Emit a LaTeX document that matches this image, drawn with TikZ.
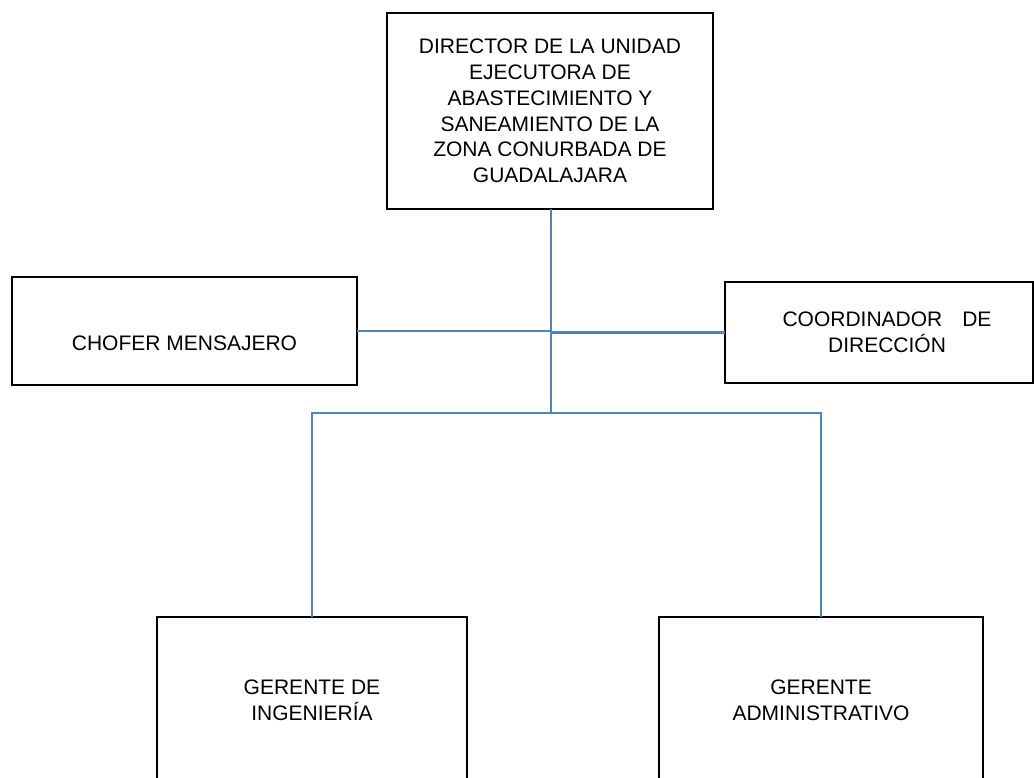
\documentclass[tikz,border=0pt]{standalone}
\usepackage{fontspec}
\setmainfont{Liberation Sans}
\definecolor{linkblue}{HTML}{4F81BD}
\begin{document}
\begin{tikzpicture}[x=1pt,y=-1pt,
  box/.style={draw=black,line width=2.8pt,rectangle,inner sep=0pt,outer sep=0pt,
    align=center,font=\fontsize{21}{25.7}\selectfont},
  link/.style={draw=linkblue,line width=2.2pt}]
\useasboundingbox (0,0) rectangle (1034,778);
\clip (0,0) rectangle (1034,778);
\node[box,minimum width=326pt,minimum height=196pt] (dir) at (550,111)
  {DIRECTOR DE LA UNIDAD\\EJECUTORA DE\\ABASTECIMIENTO Y\\SANEAMIENTO DE LA\\ZONA CONURBADA DE\\GUADALAJARA};
\node[box,minimum width=345pt,minimum height=108pt,text height=73.5pt,text depth=34.5pt] (chof) at (184.5,331)
  {CHOFER MENSAJERO};
\node[box,minimum width=308pt,minimum height=101pt] (coord) at (879,332.5)
  {\hspace*{16pt}COORDINADOR\hspace{20pt}DE\\\hspace*{16pt}DIRECCIÓN};
\node[box,minimum width=310pt,minimum height=166pt] (ing) at (312,700)
  {GERENTE DE\\INGENIERÍA};
\node[box,minimum width=324pt,minimum height=166pt] (adm) at (821,700)
  {GERENTE\\ADMINISTRATIVO};
\coordinate (bus) at (551,413);
\draw[link] (dir.south -| bus) -- (bus);
\draw[link] (chof.east) -- (chof.east -| bus);
\draw[link] (coord.west) -- (coord.west -| bus);
\draw[link] (ing.north) |- (bus) -| (adm.north);
\end{tikzpicture}
\end{document}
